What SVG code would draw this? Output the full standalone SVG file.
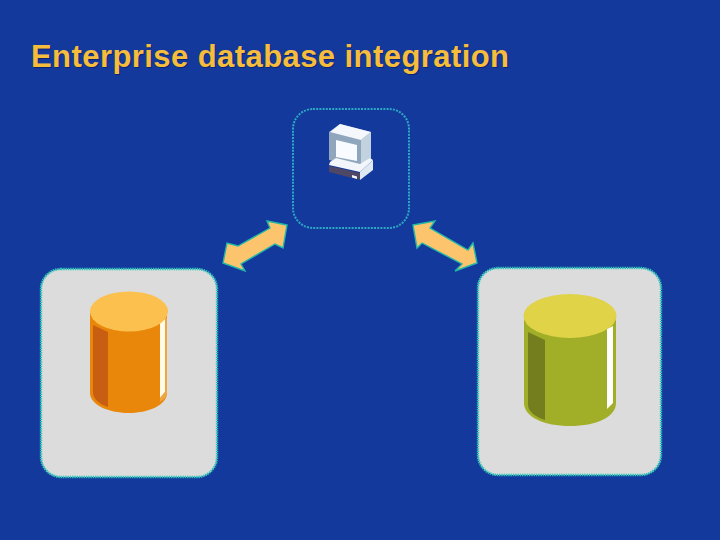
<svg xmlns="http://www.w3.org/2000/svg" width="720" height="540" viewBox="0 0 720 540">
<style>
.title{font-family:"Liberation Sans",Arial,sans-serif;font-weight:700;font-size:31px;letter-spacing:.43px;fill:#f6bd3c}
.panel{fill:#dcdcdc;stroke:#2fc4b8;stroke-width:2.4;stroke-dasharray:1.5 .8}
.arrow{fill:#fcc46c;stroke:#22b8a8;stroke-width:1.4;stroke-linejoin:miter}
</style>
<rect width="720" height="540" fill="#14399c"/>
<text class="title" x="31" y="67" dx="1" dy="1" style="fill:#0b2470">Enterprise database integration</text>
<text class="title" x="31" y="67">Enterprise database integration</text>
<g id="client">
<rect x="293" y="109" width="116" height="119" rx="20" fill="none" stroke="#2aa9c4" stroke-width="2" stroke-dasharray="2 1.2"/>
<path d="M329 132L340 124L371 132L371 158L360 168L329 160Z" fill="#8fa6bd"/>
<path d="M330 132L340 124L371 132L361 140Z" fill="#f4f8fc"/>
<path d="M361 140L371 132L371 158L361 168Z" fill="#c2d2de"/>
<path d="M336 140L357 145L357 161L336 157Z" fill="#f8fbff"/>
<path d="M330 162L336 158L360 164L370 158L373 160L360 172L329 165Z" fill="#f2f6fa"/>
<path d="M329 166L360 173L360 180L329 172Z" fill="#4e4766"/>
<path d="M352 175L357 176.500L357 179L352 177.500Z" fill="#f2f6fa"/>
<path d="M360 172L373 160L373 170L360 180Z" fill="#dfe9f1"/>
</g>
<g id="database-left">
<rect x="41" y="269" width="176" height="208" rx="20" class="panel"/>
<path d="M90 313V393C90 404 107 413 129 413C150 413 167 404 167 393V313Z" fill="#e8870a"/>
<path d="M93 325L108 332V407C99 404 93 399 93 392Z" fill="#c75e12"/>
<path d="M160 320L165 318V392L160 398Z" fill="#fffbe8"/>
<path d="M165 318H167V393C167 397 164 399 160 402L160 398L165 392Z" fill="#efa542"/>
<ellipse cx="129" cy="311.500" rx="39" ry="20" fill="#fcc04e"/>
</g>
<g id="database-right">
<rect x="478" y="268" width="183" height="207" rx="20" class="panel"/>
<path d="M524 316V403C524 417 544 426 570 426C596 426 616 417 616 403V316Z" fill="#a1af28"/>
<path d="M528 332L545 340V420C535 417 528 411 528 405Z" fill="#757e1f"/>
<path d="M607 329L613 326V403L607 409Z" fill="#fff"/>
<ellipse cx="570" cy="316" rx="46.500" ry="22" fill="#e0d348"/>
</g>
<g id="connectors">
<path class="arrow" d="M287 225L267 221L270 228L238 246L227 243L223 263L245 271L241 264L275 244L283 248Z"/>
<path class="arrow" d="M413 225L435 221L430 228L468 250L473 243L477 263L455 271L462 264L422 243L417 248Z"/>
</g>
</svg>
